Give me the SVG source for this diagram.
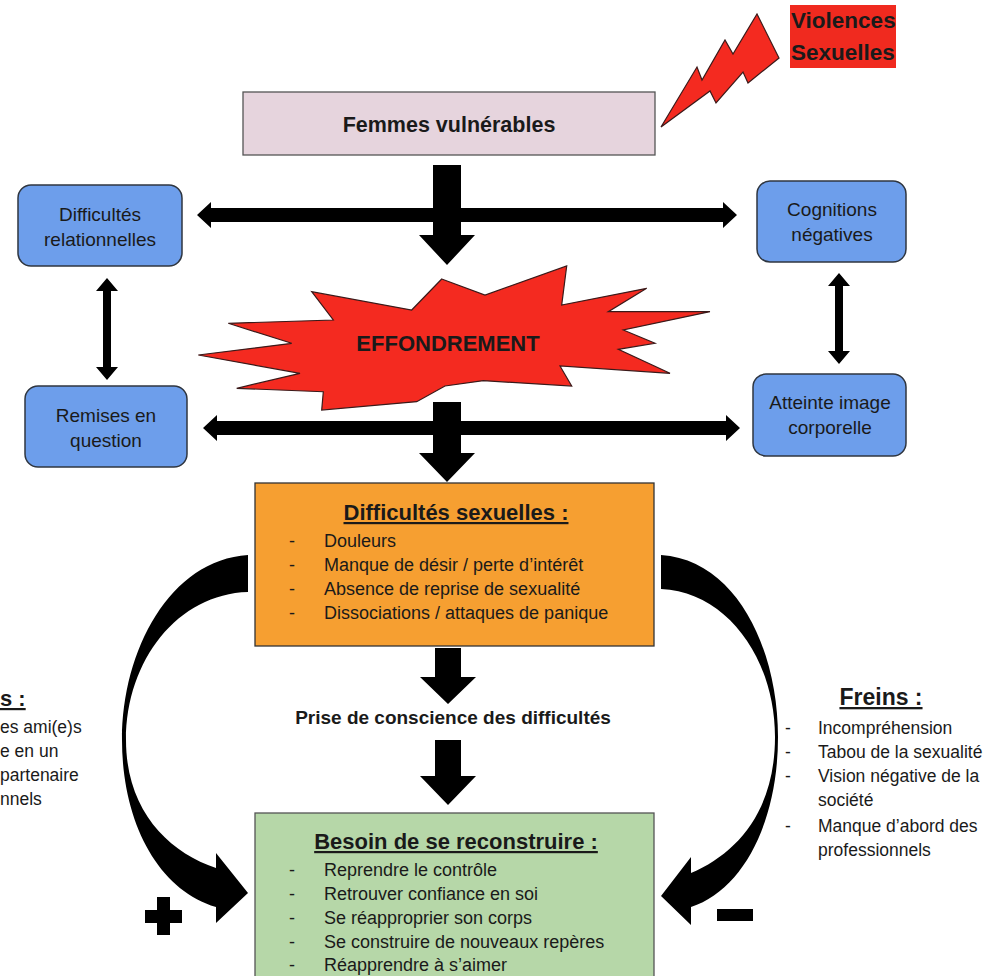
<svg xmlns="http://www.w3.org/2000/svg" width="989" height="976" viewBox="0 0 989 976">
<style>
text{font-family:"Liberation Sans",Arial,sans-serif;fill:#1a1a1a}
.b{font-weight:bold}
.u{text-decoration:underline}
.blue{fill:#6d9eeb;stroke:#2f3640;stroke-width:1.5}
.ar{fill:#000}
.red{fill:#f42a20;stroke:#3a1a1a;stroke-width:1.2;stroke-linejoin:miter}
.t19{font-size:19px}
.t18{font-size:18px}
.t175{font-size:17.5px}
.t22{font-size:22px}
.mid{text-anchor:middle}
</style>

<g id="violences">
  <polygon class="red" points="661,127 697,67 702,80 725,40 733,54 757,14 779,58 748,83 743,72 716,103 710,91"/>
  <rect x="790" y="5" width="106" height="63" fill="#f02a1f"/>
  <text class="b" x="791" y="28" font-size="22.5">Violences</text>
  <text class="b" x="791" y="60" font-size="22.5">Sexuelles</text>
</g>

<g id="femmes">
  <rect x="243" y="92" width="412" height="63" fill="#e6d4dd" stroke="#555" stroke-width="1.3"/>
  <text class="b mid" x="449" y="132" font-size="21.5">Femmes vulnérables</text>
</g>

<g id="diff-rel">
  <rect class="blue" x="18" y="185" width="164" height="81" rx="13"/>
  <text class="t19 mid" x="100" y="221">Difficultés</text>
  <text class="t19 mid" x="100" y="246">relationnelles</text>
</g>

<g id="remises">
  <rect class="blue" x="25" y="386" width="162" height="81" rx="13"/>
  <text class="t19 mid" x="106" y="422">Remises en</text>
  <text class="t19 mid" x="106" y="447">question</text>
</g>

<g id="cognitions">
  <rect class="blue" x="757" y="181" width="149" height="81" rx="13"/>
  <text class="t19 mid" x="832" y="216">Cognitions</text>
  <text class="t19 mid" x="832" y="241">négatives</text>
</g>

<g id="atteinte">
  <rect class="blue" x="753" y="374" width="153" height="82" rx="13"/>
  <text class="t19 mid" x="830" y="409">Atteinte image</text>
  <text class="t19 mid" x="830" y="434">corporelle</text>
</g>

<g id="effondrement">
  <polygon class="red" points="441.7,279 485,295 566.7,266 561.7,305 646.7,288.3 608.3,311.7 710,311.7 623.3,330 655,343.3 618.3,349.3 670,373.3 560,366 571.7,386 483.3,380.7 445,386 416.7,401.7 321.7,410 323.3,391.7 236.7,388.3 300,373.3 198.3,355 291.7,343.3 228.3,323.3 333.3,320 311.7,291.7 411.7,310"/>
  <text class="b mid" x="448" y="351" font-size="22">EFFONDREMENT</text>
</g>

<g id="connectors">
  <polygon class="ar" points="197,215 211,202 211,208 723,208 723,202 737,215 723,228 723,222 211,222 211,228"/>
  <polygon class="ar" points="433,165 461,165 461,235 475,235 447,265 419,235 433,235"/>
  <polygon class="ar" points="203,428 217,415 217,421 726,421 726,415 740,428 726,441 726,435 217,435 217,441"/>
  <polygon class="ar" points="433,402 461,402 461,453 475,453 447,482 419,453 433,453"/>
  <polygon class="ar" points="107,278 118,291 111,291 111,367 118,367 107,380 96,367 103,367 103,291 96,291"/>
  <polygon class="ar" points="839,273 850,286 843,286 843,351 850,351 839,364 828,351 835,351 835,286 828,286"/>
  <polygon class="ar" points="435,648 461,648 461,677 476,677 448,704 420,677 435,677"/>
  <polygon class="ar" points="435,740 461,740 461,776 476,776 448,805 420,776 435,776"/>
  <path class="ar" d="M248,555 C170,560 122,650 122,740 C122,822 158,890 216,907 L216,923 L248,893 L216,853 L216,868 C168,852 126,810 126,740 C126,660 178,594 248,592 Z"/>
  <path class="ar" d="M661,555 C737,560 778,650 778,737 C778,822 743,890 691,907 L691,925 L661,896 L691,857 L691,873 C738,853 775,810 775,737 C775,660 728,592 661,589 Z"/>
  <polygon class="ar" points="157,897 170,897 170,910 182,910 182,923 170,923 170,935 157,935 157,923 145,923 145,910 157,910"/>
  <rect class="ar" x="717" y="909" width="36" height="12"/>
</g>

<g id="diff-sex">
  <rect x="255" y="483" width="399" height="163" fill="#f69f31" stroke="#333" stroke-width="1.3"/>
  <text class="b u t22 mid" x="456" y="520">Difficultés sexuelles :</text>
  <g class="t18">
    <text x="289" y="547">-</text><text x="324" y="547">Douleurs</text>
    <text x="289" y="571">-</text><text x="324" y="571">Manque de désir / perte d’intérêt</text>
    <text x="289" y="595">-</text><text x="324" y="595">Absence de reprise de sexualité</text>
    <text x="289" y="619">-</text><text x="324" y="619">Dissociations / attaques de panique</text>
  </g>
</g>

<g id="prise">
  <text class="b mid" x="453" y="724" font-size="19">Prise de conscience des difficultés</text>
</g>

<g id="besoin">
  <rect x="255" y="813" width="399" height="175" fill="#b6d7a8" stroke="#555" stroke-width="1.3"/>
  <text class="b u t22 mid" x="456" y="849">Besoin de se reconstruire :</text>
  <g class="t18">
    <text x="289" y="876">-</text><text x="324" y="876">Reprendre le contrôle</text>
    <text x="289" y="900">-</text><text x="324" y="900">Retrouver confiance en soi</text>
    <text x="289" y="924">-</text><text x="324" y="924">Se réapproprier son corps</text>
    <text x="289" y="948">-</text><text x="324" y="948">Se construire de nouveaux repères</text>
    <text x="289" y="971">-</text><text x="324" y="971">Réapprendre à s’aimer</text>
  </g>
</g>

<g id="leviers">
  <text class="b u t22" x="0" y="706">s :</text>
  <g class="t175">
    <text x="0" y="733">es ami(e)s</text>
    <text x="0" y="757">e en un</text>
    <text x="0" y="781">partenaire</text>
    <text x="0" y="805">nnels</text>
  </g>
</g>

<g id="freins">
  <text class="b u mid" x="881" y="705" font-size="23">Freins :</text>
  <g class="t175">
    <text x="785" y="734">-</text><text x="818" y="734">Incompréhension</text>
    <text x="785" y="758">-</text><text x="818" y="758">Tabou de la sexualité</text>
    <text x="785" y="782">-</text><text x="818" y="782">Vision négative de la</text>
    <text x="818" y="806">société</text>
    <text x="785" y="832">-</text><text x="818" y="832">Manque d’abord des</text>
    <text x="818" y="856">professionnels</text>
  </g>
</g>
</svg>
